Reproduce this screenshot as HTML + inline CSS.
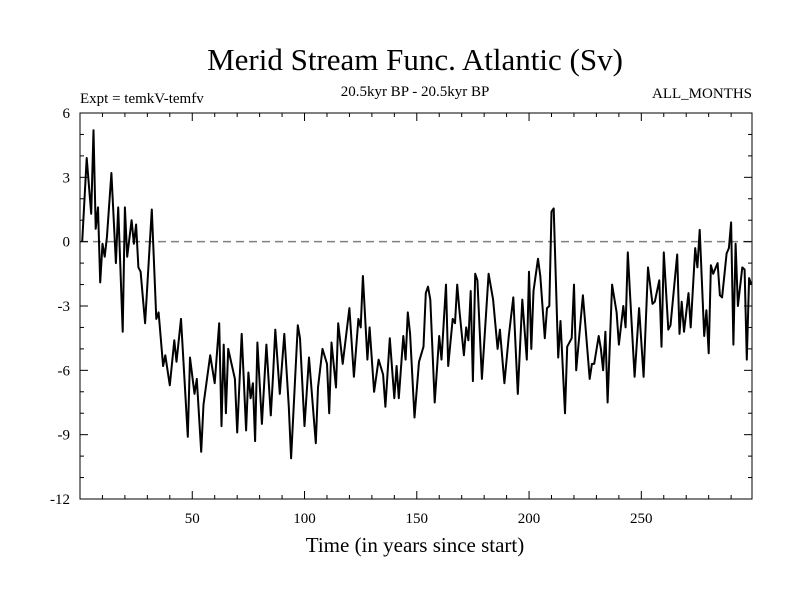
<!DOCTYPE html>
<html><head><meta charset="utf-8"><style>
html,body{margin:0;padding:0;background:#fff}
svg{display:block;font-family:"Liberation Serif",serif}
</style></head><body>
<svg id="chart" width="800" height="600" viewBox="0 0 800 600" xmlns="http://www.w3.org/2000/svg">
<text x="415" y="70" font-size="31" text-anchor="middle">Merid Stream Func. Atlantic (Sv)</text>
<text x="80" y="103" font-size="15">Expt = temkV-temfv</text>
<text x="415" y="96" font-size="15" text-anchor="middle">20.5kyr BP - 20.5kyr BP</text>
<text x="752" y="98" font-size="15" text-anchor="end">ALL_MONTHS</text>
<text x="415" y="552" font-size="21" text-anchor="middle">Time (in years since start)</text>
<g id="plot"></g>
</svg>
<script>
const years=[1,3,5,6,7,8,9,10,11,12,14,16,17,19,20,21,23,24,25,26,27,29,32,34,35,37,38,40,42,43,45,48,49,51,52,54,55,58,60,62,63,64,65,66,69,70,72,74,75,76,77,78,79,81,83,85,86,87,89,91,93,94,97,98,100,102,105,106,108,110,111,112,114,115,117,120,122,124,125,126,128,129,131,133,135,136,138,140,141,142,144,145,146,147,149,151,153,154,155,156,158,160,161,163,164,166,167,168,169,171,172,173,174,175,176,177,179,182,184,186,187,189,191,193,195,197,199,200,201,202,204,205,207,208,209,210,211,213,214,216,217,219,220,221,224,225,227,228,229,231,232,233,234,235,237,239,240,242,243,244,245,247,249,251,253,255,256,258,259,260,262,263,266,267,268,269,271,272,274,275,276,278,279,280,281,282,284,285,286,288,289,290,291,292,293,295,296,297,298,299];
const values=[0,3.9,1.3,5.2,0.6,1.6,-1.9,-0.1,-0.7,0.2,3.2,-1.0,1.6,-4.2,1.6,-0.7,1.0,-0.1,0.8,-1.2,-1.4,-3.8,1.5,-3.6,-3.3,-5.8,-5.3,-6.7,-4.6,-5.6,-3.6,-9.1,-5.4,-7.1,-6.4,-9.8,-7.6,-5.3,-6.6,-3.8,-8.6,-4.8,-8.0,-5.0,-6.4,-8.9,-4.3,-8.8,-6.1,-7.3,-6.6,-9.3,-4.7,-8.5,-4.8,-8.1,-6.2,-4.1,-7.1,-4.3,-7.7,-10.1,-3.9,-4.5,-8.6,-5.4,-9.4,-6.8,-5.0,-5.7,-8.0,-4.7,-6.8,-3.8,-5.7,-3.1,-6.3,-3.6,-4.0,-1.6,-5.5,-4.0,-7.0,-5.5,-6.2,-7.7,-4.5,-7.3,-5.8,-7.3,-4.4,-5.5,-3.3,-4.3,-8.2,-5.6,-4.9,-2.4,-2.1,-2.7,-7.5,-4.4,-5.5,-2.0,-5.8,-3.6,-3.8,-2.0,-3.2,-5.3,-4.0,-4.6,-2.3,-6.5,-1.5,-1.8,-6.4,-1.5,-2.7,-5.0,-4.1,-6.6,-4.4,-2.6,-7.1,-2.7,-5.5,-1.4,-5.0,-2.3,-0.8,-1.6,-4.5,-3.1,-3.0,1.4,1.55,-5.4,-3.7,-8.0,-4.9,-4.5,-2.0,-6.0,-2.5,-3.8,-6.4,-5.7,-5.7,-4.4,-5.0,-6.0,-4.2,-7.5,-2.0,-3.3,-4.8,-3.0,-4.0,-0.5,-2.5,-6.3,-3.1,-6.3,-1.2,-2.9,-2.8,-1.8,-4.9,-0.5,-4.1,-3.9,-0.6,-4.3,-2.8,-4.2,-2.4,-4.0,-0.3,-1.2,0.55,-4.4,-3.2,-5.2,-1.1,-1.5,-1.0,-2.5,-2.6,-0.55,-0.3,0.9,-4.8,-0.1,-3.0,-1.2,-1.3,-5.5,-1.7,-2.0];
const xTickLabels=[50,100,150,200,250];
const yTickLabels=[-12,-9,-6,-3,0,3,6];

const L=80,R=752,T=113,B=499,X0=0,X1=299.3,Y0=-12,Y1=6;
const NS='http://www.w3.org/2000/svg';
const xs=v=>L+(v-X0)/(X1-X0)*(R-L);
const ys=v=>B-(v-Y0)/(Y1-Y0)*(B-T);
const g=document.getElementById('plot');
function mk(tag,attrs){const e=document.createElementNS(NS,tag);for(const k in attrs)e.setAttribute(k,attrs[k]);g.appendChild(e);return e;}

const z=mk('line',{x1:L,x2:R,y1:ys(0),y2:ys(0),stroke:'#808080','stroke-width':1.5,'stroke-dasharray':'8,5'});



let d='';
years.forEach((y,i)=>{d+=(i?'L':'M')+xs(y).toFixed(1)+','+ys(values[i]).toFixed(1);});
const p=mk('path',{d:d,fill:'none',stroke:'#000','stroke-width':2,'stroke-linejoin':'round'});



const fr=mk('rect',{x:L,y:T,width:R-L,height:B-T,fill:'none',stroke:'#000','stroke-width':1});



for(let v=Y0;v<=Y1;v++){
  const major=(v%3===0);const len=major?8:4;
  const t1=mk('line',{x1:L,x2:L+len,y1:ys(v),y2:ys(v),stroke:'#000'});
  
  
  const t2=mk('line',{x1:R,x2:R-len,y1:ys(v),y2:ys(v),stroke:'#000'});
  
  
}
yTickLabels.forEach(v=>{
  const t=mk('text',{x:70,y:ys(v)+5,'font-size':15,'text-anchor':'end'});
  t.textContent=v;
  
  
});
for(let v=10;v<=290;v+=10){
  const major=(v%50===0);const len=major?8:4;
  const t1=mk('line',{x1:xs(v),x2:xs(v),y1:B,y2:B-len,stroke:'#000'});
  
  
  const t2=mk('line',{x1:xs(v),x2:xs(v),y1:T,y2:T+len,stroke:'#000'});
  
  
}
xTickLabels.forEach(v=>{
  const t=mk('text',{x:xs(v),y:523,'font-size':15,'text-anchor':'middle'});
  t.textContent=v;
  
  
});
</script>
</body></html>
